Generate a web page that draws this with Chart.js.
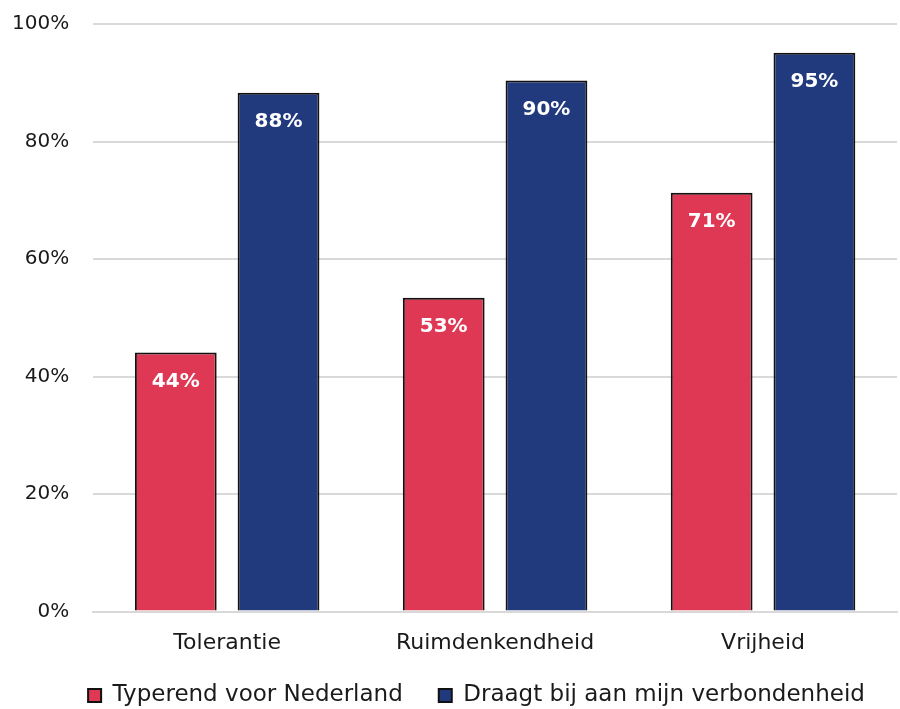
<!DOCTYPE html>
<html>
<head>
<meta charset="utf-8">
<script src="https://cdn.jsdelivr.net/npm/chart.js@4.4.1/dist/chart.umd.min.js"></script>
<style>
html,body{margin:0;padding:0;background:#fff;}
#wrap{width:900px;height:709px;}
</style>
</head>
<body>
<div id="wrap"><canvas id="c" width="900" height="709"></canvas></div>
<script>
const categories = ["Tolerantie", "Ruimdenkendheid", "Vrijheid"];
const seriesNames = ["Typerend voor Nederland", "Draagt bij aan mijn verbondenheid"];
const typerend = [44.1, 53.4, 71.3];
const verbondenheid = [88.3, 90.4, 95.1];
const yTicks = [0, 20, 40, 60, 80, 100];

const FONT = "'DejaVu Sans', sans-serif";

const labelPlugin = {
  id: 'barLabels',
  afterDatasetsDraw(chart) {
    const ctx = chart.ctx;
    ctx.save();
    ctx.fillStyle = '#ffffff';
    ctx.font = "bold 20px " + FONT;
    ctx.textAlign = 'center';
    ctx.textBaseline = 'middle';
    chart.data.datasets.forEach((ds, i) => {
      chart.getDatasetMeta(i).data.forEach((el, j) => {
        ctx.fillText(Math.round(ds.data[j]) + '%', el.x, el.y + 29);
      });
    });
    ctx.restore();
  }
};

// tighten the legend box vertically and nudge it
const legendFit = {
  id: 'legendFit',
  beforeInit(chart) {
    const lg = chart.legend;
    if (!lg) return;
    const orig = lg.fit;
    lg.fit = function () {
      orig.call(this);
      this.height -= 34;
    };
  },
  afterLayout(chart) {
    const lg = chart.legend;
    if (!lg) return;
    lg.top -= 26;
    lg.height += 26;
    lg.left += 34;
    lg.right += 34;
  }
};

new Chart(document.getElementById('c'), {
  type: 'bar',
  data: {
    labels: categories,
    datasets: [
      { label: seriesNames[0], data: typerend, backgroundColor: '#DE3855', borderColor: '#111111', borderWidth: 2,
        categoryPercentage: 0.767, barPercentage: 0.796 },
      { label: seriesNames[1], data: verbondenheid, backgroundColor: '#213A7D', borderColor: '#111111', borderWidth: 2,
        categoryPercentage: 0.767, barPercentage: 0.796 }
    ]
  },
  options: {
    responsive: false,
    animation: false,
    layout: { padding: { top: 0, right: 3, left: -12, bottom: 0 } },
    plugins: {
      legend: {
        position: 'bottom',
        labels: {
          font: { family: FONT, size: 23 }, color: '#1a1a1a',
          boxWidth: 13, boxHeight: 13, padding: 36, useBorderRadius: false
        }
      },
      tooltip: { enabled: false }
    },
    scales: {
      x: {
        grid: { display: false, drawTicks: false },
        border: { color: '#d9d9d9', width: 2 },
        ticks: { font: { family: FONT, size: 22 }, color: '#1a1a1a', padding: 18 }
      },
      y: {
        min: 0, max: 100,
        afterBuildTicks(axis) { axis.ticks = yTicks.map(v => ({ value: v })); },
        afterFit(axis) { axis.paddingTop = 24; axis.paddingBottom = 12; },
        grid: { color: '#d9d9d9', lineWidth: 2, drawTicks: false },
        border: { display: false },
        ticks: { font: { family: FONT, size: 20 }, color: '#1a1a1a', padding: 24,
          callback: v => v + '%' }
      }
    }
  },
  plugins: [labelPlugin, legendFit]
});
</script>
</body>
</html>
